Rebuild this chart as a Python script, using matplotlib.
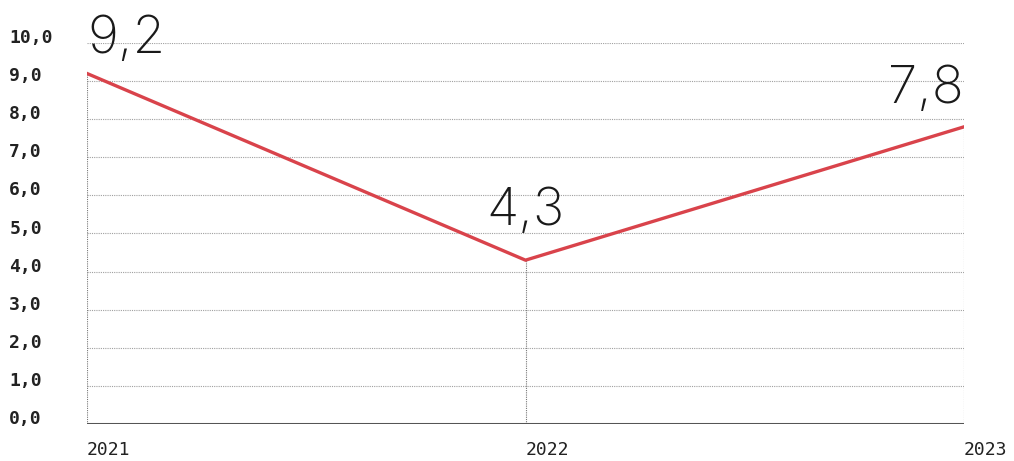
import matplotlib.pyplot as plt

years = ["2021", "2022", "2023"]
values = [9.2, 4.3, 7.8]
value_labels = ["9,2", "4,3", "7,8"]
yticks = [0, 1, 2, 3, 4, 5, 6, 7, 8, 9, 10]
ytick_labels = ["0,0", "1,0", "2,0", "3,0", "4,0", "5,0", "6,0", "7,0", "8,0", "9,0", "10,0"]

red = "#d9434b"
grid_col = "#a0a0a0"

fig = plt.figure(figsize=(10.14, 4.61), dpi=100)
ax = fig.add_axes([87 / 1014, 37 / 461, (964 - 87) / 1014, (424 - 43) / 461])

x = list(range(len(years)))
ax.set_xlim(0, 2)
ax.set_ylim(0, 10)

# horizontal grid
for t in yticks[1:]:
    ax.axhline(t, color=grid_col, lw=0.8, ls=(0, (1, 1)), zorder=1)

# drop lines from points
for xi, v in zip(x, values):
    ax.vlines(xi, 0, v, color="#777777", lw=0.8, ls=(0, (1, 1)), zorder=1)

ax.axhline(0, color="#555555", lw=2.2, zorder=2)
ax.plot(x, values, color=red, lw=2.4, zorder=3, solid_joinstyle="miter")

# value labels
aligns = ["left", "center", "right"]
offsets = [15, 25, 17]
for xi, v, lab, ha, off in zip(x, values, value_labels, aligns, offsets):
    ax.annotate(lab, (xi, v), xytext=(0, off), textcoords="offset points",
                ha=ha, va="baseline", fontsize=38, family="Inter",
                fontweight="light", color="#1a1a1a")

for s in ax.spines.values():
    s.set_visible(False)

ax.set_yticks(yticks)
ax.set_yticklabels(ytick_labels)
ax.tick_params(axis="y", length=0, pad=56)
for lab in ax.get_yticklabels():
    lab.set_ha("left")
    lab.set_va("baseline")
    lab.set_family("DejaVu Sans Mono")
    lab.set_fontweight("bold")
    lab.set_fontsize(13)
    lab.set_color("#222222")

ax.set_xticks(x)
ax.set_xticklabels(years)
ax.tick_params(axis="x", length=0, pad=12)
for lab in ax.get_xticklabels():
    lab.set_ha("left")
    lab.set_family("DejaVu Sans Mono")
    lab.set_fontsize(13)
    lab.set_color("#222222")

fig.savefig("out.png", dpi=100)
